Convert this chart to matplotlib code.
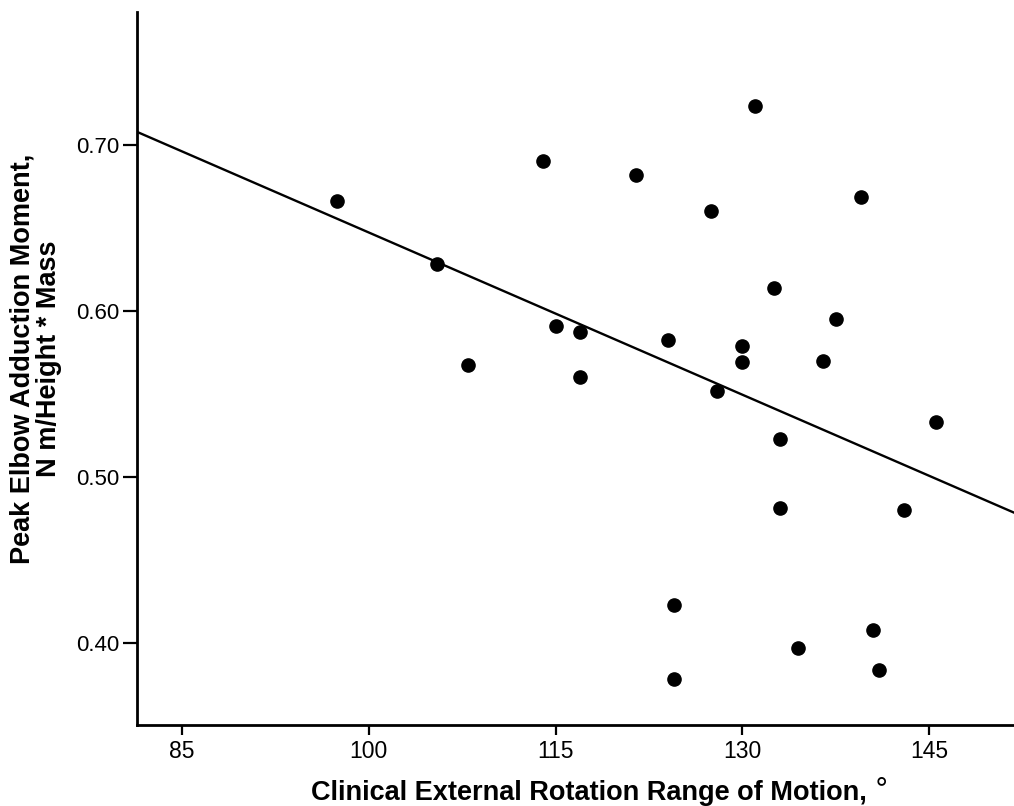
import matplotlib
matplotlib.use("Agg")
import matplotlib.pyplot as plt
import numpy as np

plt.rcParams['font.family'] = ['Liberation Sans', 'DejaVu Sans']

# external rotation ROM (deg) and peak elbow adduction moment
rom = [97.5, 105.5, 114.0, 121.5, 115.0, 117.0, 108.0, 117.0,
       131.0, 127.5, 139.5, 132.5, 137.5, 124.0, 130.0, 130.0, 136.5, 128.0,
       145.5, 133.0, 133.0, 143.0, 124.5, 124.5, 134.5, 140.5, 141.0]
moment = [0.666, 0.628, 0.6905, 0.682, 0.591, 0.587, 0.5675, 0.560,
          0.7235, 0.660, 0.6685, 0.614, 0.595, 0.5825, 0.579, 0.569, 0.570, 0.552,
          0.533, 0.523, 0.481, 0.480, 0.423, 0.378, 0.397, 0.4075, 0.3835]

x_ticks = [85, 100, 115, 130, 145]
y_ticks = [0.40, 0.50, 0.60, 0.70]

fig = plt.figure(figsize=(10.14, 8.06), dpi=100)
ax = fig.add_axes([136.5 / 1014, 1 - 725 / 806, 1 - 136.5 / 1014, (725 - 11.7) / 806])

xlim = (81.37, 151.8)
ylim = (0.3504, 0.7803)

ax.plot(rom, moment, 'o', color='black', markersize=9.5, clip_on=False, zorder=3)

# least squares fit line across the whole axis
slope, intercept = np.polyfit(rom, moment, 1)
xs = np.array(xlim)
ax.plot(xs, slope * xs + intercept, color='black', linewidth=1.7, zorder=2)

ax.set_xlim(xlim)
ax.set_ylim(ylim)
ax.set_xticks(x_ticks)
ax.set_yticks(y_ticks)
ax.set_yticklabels(['%.2f' % v for v in y_ticks])

for side in ['top', 'right']:
    ax.spines[side].set_visible(False)
for side in ['left', 'bottom']:
    ax.spines[side].set_linewidth(2)
    ax.spines[side].set_color('black')

ax.tick_params(axis='x', direction='out', length=7, width=1.6, pad=4, labelsize=16.5)
ax.tick_params(axis='y', direction='out', length=10, width=1.6, pad=2, labelsize=16)

fig.text(311 / 1014, 1 - 800.5 / 806, 'Clinical External Rotation Range of Motion,',
         ha='left', va='baseline', fontsize=19.5, fontweight='bold')
# degree sign, raised above the label like the original
fig.text(879 / 1014, 1 - 781 / 806, r'$\circ$', ha='center', va='center', fontsize=20)

fig.text(36 / 1014, 1 - 358.5 / 806, 'Peak Elbow Adduction Moment,\nN m/Height * Mass',
         rotation=90, ha='center', va='center', multialignment='center',
         fontsize=19.5, fontweight='bold', linespacing=1.05)

fig.savefig('out.png', dpi=100)
